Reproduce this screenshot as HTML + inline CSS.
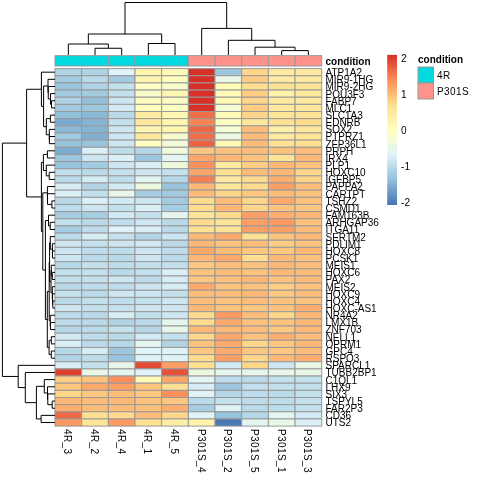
<!DOCTYPE html><html><head><meta charset="utf-8"><style>html,body{margin:0;padding:0;background:#fff;width:480px;height:480px;overflow:hidden}svg{display:block;will-change:transform}text{font-family:"Liberation Sans",sans-serif}</style></head><body>
<svg width="480" height="480" viewBox="0 0 480 480">
<g stroke="#999999" stroke-width="1">
<rect x="55.00" y="68.60" width="26.67" height="7.15" fill="#b0d3e6"/>
<rect x="81.67" y="68.60" width="26.67" height="7.15" fill="#b0d3e6"/>
<rect x="108.34" y="68.60" width="26.67" height="7.15" fill="#e0f3f8"/>
<rect x="135.01" y="68.60" width="26.67" height="7.15" fill="#fff5af"/>
<rect x="161.68" y="68.60" width="26.67" height="7.15" fill="#fffab8"/>
<rect x="188.35" y="68.60" width="26.67" height="7.15" fill="#d73027"/>
<rect x="215.02" y="68.60" width="26.67" height="7.15" fill="#9dc7df"/>
<rect x="241.69" y="68.60" width="26.67" height="7.15" fill="#fed689"/>
<rect x="268.36" y="68.60" width="26.67" height="7.15" fill="#feeba1"/>
<rect x="295.03" y="68.60" width="26.67" height="7.15" fill="#feeba1"/>
<rect x="55.00" y="75.75" width="26.67" height="7.15" fill="#a2cae1"/>
<rect x="81.67" y="75.75" width="26.67" height="7.15" fill="#badaea"/>
<rect x="108.34" y="75.75" width="26.67" height="7.15" fill="#a2cae1"/>
<rect x="135.01" y="75.75" width="26.67" height="7.15" fill="#fff5af"/>
<rect x="161.68" y="75.75" width="26.67" height="7.15" fill="#fffebe"/>
<rect x="188.35" y="75.75" width="26.67" height="7.15" fill="#d73027"/>
<rect x="215.02" y="75.75" width="26.67" height="7.15" fill="#e9f7e7"/>
<rect x="241.69" y="75.75" width="26.67" height="7.15" fill="#fecc83"/>
<rect x="268.36" y="75.75" width="26.67" height="7.15" fill="#feeba1"/>
<rect x="295.03" y="75.75" width="26.67" height="7.15" fill="#fee99e"/>
<rect x="55.00" y="82.90" width="26.67" height="7.15" fill="#98c4de"/>
<rect x="81.67" y="82.90" width="26.67" height="7.15" fill="#b0d3e6"/>
<rect x="108.34" y="82.90" width="26.67" height="7.15" fill="#c3e0ed"/>
<rect x="135.01" y="82.90" width="26.67" height="7.15" fill="#feffc1"/>
<rect x="161.68" y="82.90" width="26.67" height="7.15" fill="#f8fccb"/>
<rect x="188.35" y="82.90" width="26.67" height="7.15" fill="#d73027"/>
<rect x="215.02" y="82.90" width="26.67" height="7.15" fill="#fffab8"/>
<rect x="241.69" y="82.90" width="26.67" height="7.15" fill="#fee090"/>
<rect x="268.36" y="82.90" width="26.67" height="7.15" fill="#fee293"/>
<rect x="295.03" y="82.90" width="26.67" height="7.15" fill="#fee496"/>
<rect x="55.00" y="90.05" width="26.67" height="7.15" fill="#a2cae1"/>
<rect x="81.67" y="90.05" width="26.67" height="7.15" fill="#a2cae1"/>
<rect x="108.34" y="90.05" width="26.67" height="7.15" fill="#c3e0ed"/>
<rect x="135.01" y="90.05" width="26.67" height="7.15" fill="#f8fccb"/>
<rect x="161.68" y="90.05" width="26.67" height="7.15" fill="#fff7b2"/>
<rect x="188.35" y="90.05" width="26.67" height="7.15" fill="#d73027"/>
<rect x="215.02" y="90.05" width="26.67" height="7.15" fill="#fffab8"/>
<rect x="241.69" y="90.05" width="26.67" height="7.15" fill="#fecc83"/>
<rect x="268.36" y="90.05" width="26.67" height="7.15" fill="#fff3ac"/>
<rect x="295.03" y="90.05" width="26.67" height="7.15" fill="#fee99e"/>
<rect x="55.00" y="97.20" width="26.67" height="7.15" fill="#b0d3e6"/>
<rect x="81.67" y="97.20" width="26.67" height="7.15" fill="#93c1dc"/>
<rect x="108.34" y="97.20" width="26.67" height="7.15" fill="#cde6f1"/>
<rect x="135.01" y="97.20" width="26.67" height="7.15" fill="#fffebe"/>
<rect x="161.68" y="97.20" width="26.67" height="7.15" fill="#fcfec4"/>
<rect x="188.35" y="97.20" width="26.67" height="7.15" fill="#d73027"/>
<rect x="215.02" y="97.20" width="26.67" height="7.15" fill="#fff8b5"/>
<rect x="241.69" y="97.20" width="26.67" height="7.15" fill="#fed689"/>
<rect x="268.36" y="97.20" width="26.67" height="7.15" fill="#fee99e"/>
<rect x="295.03" y="97.20" width="26.67" height="7.15" fill="#fee99e"/>
<rect x="55.00" y="104.35" width="26.67" height="7.15" fill="#a2cae1"/>
<rect x="81.67" y="104.35" width="26.67" height="7.15" fill="#9dc7df"/>
<rect x="108.34" y="104.35" width="26.67" height="7.15" fill="#d2eaf3"/>
<rect x="135.01" y="104.35" width="26.67" height="7.15" fill="#fffebe"/>
<rect x="161.68" y="104.35" width="26.67" height="7.15" fill="#fcfec4"/>
<rect x="188.35" y="104.35" width="26.67" height="7.15" fill="#d73027"/>
<rect x="215.02" y="104.35" width="26.67" height="7.15" fill="#f5fbd2"/>
<rect x="241.69" y="104.35" width="26.67" height="7.15" fill="#fecc83"/>
<rect x="268.36" y="104.35" width="26.67" height="7.15" fill="#fee99e"/>
<rect x="295.03" y="104.35" width="26.67" height="7.15" fill="#fee89b"/>
<rect x="55.00" y="111.50" width="26.67" height="7.15" fill="#93c1dc"/>
<rect x="81.67" y="111.50" width="26.67" height="7.15" fill="#8ab8d7"/>
<rect x="108.34" y="111.50" width="26.67" height="7.15" fill="#badaea"/>
<rect x="135.01" y="111.50" width="26.67" height="7.15" fill="#feeba1"/>
<rect x="161.68" y="111.50" width="26.67" height="7.15" fill="#fff7b2"/>
<rect x="188.35" y="111.50" width="26.67" height="7.15" fill="#f06e48"/>
<rect x="215.02" y="111.50" width="26.67" height="7.15" fill="#fffab8"/>
<rect x="241.69" y="111.50" width="26.67" height="7.15" fill="#fed689"/>
<rect x="268.36" y="111.50" width="26.67" height="7.15" fill="#fee496"/>
<rect x="295.03" y="111.50" width="26.67" height="7.15" fill="#fee496"/>
<rect x="55.00" y="118.65" width="26.67" height="7.15" fill="#7cabd0"/>
<rect x="81.67" y="118.65" width="26.67" height="7.15" fill="#85b4d5"/>
<rect x="108.34" y="118.65" width="26.67" height="7.15" fill="#c3e0ed"/>
<rect x="135.01" y="118.65" width="26.67" height="7.15" fill="#fee99e"/>
<rect x="161.68" y="118.65" width="26.67" height="7.15" fill="#fff5af"/>
<rect x="188.35" y="118.65" width="26.67" height="7.15" fill="#f98554"/>
<rect x="215.02" y="118.65" width="26.67" height="7.15" fill="#fcfec4"/>
<rect x="241.69" y="118.65" width="26.67" height="7.15" fill="#fee89b"/>
<rect x="268.36" y="118.65" width="26.67" height="7.15" fill="#fee090"/>
<rect x="295.03" y="118.65" width="26.67" height="7.15" fill="#fedb8d"/>
<rect x="55.00" y="125.80" width="26.67" height="7.15" fill="#8ab8d7"/>
<rect x="81.67" y="125.80" width="26.67" height="7.15" fill="#85b4d5"/>
<rect x="108.34" y="125.80" width="26.67" height="7.15" fill="#cde6f1"/>
<rect x="135.01" y="125.80" width="26.67" height="7.15" fill="#fff7b2"/>
<rect x="161.68" y="125.80" width="26.67" height="7.15" fill="#fff5af"/>
<rect x="188.35" y="125.80" width="26.67" height="7.15" fill="#ed6845"/>
<rect x="215.02" y="125.80" width="26.67" height="7.15" fill="#f5fbd2"/>
<rect x="241.69" y="125.80" width="26.67" height="7.15" fill="#fdbd79"/>
<rect x="268.36" y="125.80" width="26.67" height="7.15" fill="#feefa7"/>
<rect x="295.03" y="125.80" width="26.67" height="7.15" fill="#fee89b"/>
<rect x="55.00" y="132.95" width="26.67" height="7.15" fill="#a2cae1"/>
<rect x="81.67" y="132.95" width="26.67" height="7.15" fill="#81afd3"/>
<rect x="108.34" y="132.95" width="26.67" height="7.15" fill="#cde6f1"/>
<rect x="135.01" y="132.95" width="26.67" height="7.15" fill="#fee99e"/>
<rect x="161.68" y="132.95" width="26.67" height="7.15" fill="#f8fccb"/>
<rect x="188.35" y="132.95" width="26.67" height="7.15" fill="#f06e48"/>
<rect x="215.02" y="132.95" width="26.67" height="7.15" fill="#edf8e0"/>
<rect x="241.69" y="132.95" width="26.67" height="7.15" fill="#fdbd79"/>
<rect x="268.36" y="132.95" width="26.67" height="7.15" fill="#fee99e"/>
<rect x="295.03" y="132.95" width="26.67" height="7.15" fill="#fee496"/>
<rect x="55.00" y="140.10" width="26.67" height="7.15" fill="#98c4de"/>
<rect x="81.67" y="140.10" width="26.67" height="7.15" fill="#98c4de"/>
<rect x="108.34" y="140.10" width="26.67" height="7.15" fill="#cde6f1"/>
<rect x="135.01" y="140.10" width="26.67" height="7.15" fill="#feffc1"/>
<rect x="161.68" y="140.10" width="26.67" height="7.15" fill="#f1fad9"/>
<rect x="188.35" y="140.10" width="26.67" height="7.15" fill="#eb6342"/>
<rect x="215.02" y="140.10" width="26.67" height="7.15" fill="#fff8b5"/>
<rect x="241.69" y="140.10" width="26.67" height="7.15" fill="#fdbd79"/>
<rect x="268.36" y="140.10" width="26.67" height="7.15" fill="#fee293"/>
<rect x="295.03" y="140.10" width="26.67" height="7.15" fill="#fee090"/>
<rect x="55.00" y="147.25" width="26.67" height="7.15" fill="#7cabd0"/>
<rect x="81.67" y="147.25" width="26.67" height="7.15" fill="#dbf0f6"/>
<rect x="108.34" y="147.25" width="26.67" height="7.15" fill="#beddec"/>
<rect x="135.01" y="147.25" width="26.67" height="7.15" fill="#b5d7e8"/>
<rect x="161.68" y="147.25" width="26.67" height="7.15" fill="#eff9dc"/>
<rect x="188.35" y="147.25" width="26.67" height="7.15" fill="#fdc77f"/>
<rect x="215.02" y="147.25" width="26.67" height="7.15" fill="#fdc27c"/>
<rect x="241.69" y="147.25" width="26.67" height="7.15" fill="#fdbd79"/>
<rect x="268.36" y="147.25" width="26.67" height="7.15" fill="#fdc27c"/>
<rect x="295.03" y="147.25" width="26.67" height="7.15" fill="#fdbd79"/>
<rect x="55.00" y="154.40" width="26.67" height="7.15" fill="#9dc7df"/>
<rect x="81.67" y="154.40" width="26.67" height="7.15" fill="#cde6f1"/>
<rect x="108.34" y="154.40" width="26.67" height="7.15" fill="#dbf0f6"/>
<rect x="135.01" y="154.40" width="26.67" height="7.15" fill="#9dc7df"/>
<rect x="161.68" y="154.40" width="26.67" height="7.15" fill="#e4f4f1"/>
<rect x="188.35" y="154.40" width="26.67" height="7.15" fill="#fda468"/>
<rect x="215.02" y="154.40" width="26.67" height="7.15" fill="#fdb875"/>
<rect x="241.69" y="154.40" width="26.67" height="7.15" fill="#fdc27c"/>
<rect x="268.36" y="154.40" width="26.67" height="7.15" fill="#fee496"/>
<rect x="295.03" y="154.40" width="26.67" height="7.15" fill="#fdb875"/>
<rect x="55.00" y="161.55" width="26.67" height="7.15" fill="#98c4de"/>
<rect x="81.67" y="161.55" width="26.67" height="7.15" fill="#a2cae1"/>
<rect x="108.34" y="161.55" width="26.67" height="7.15" fill="#cde6f1"/>
<rect x="135.01" y="161.55" width="26.67" height="7.15" fill="#dbf0f6"/>
<rect x="161.68" y="161.55" width="26.67" height="7.15" fill="#eff9dc"/>
<rect x="188.35" y="161.55" width="26.67" height="7.15" fill="#fc905b"/>
<rect x="215.02" y="161.55" width="26.67" height="7.15" fill="#fee99e"/>
<rect x="241.69" y="161.55" width="26.67" height="7.15" fill="#fecc83"/>
<rect x="268.36" y="161.55" width="26.67" height="7.15" fill="#fdb875"/>
<rect x="295.03" y="161.55" width="26.67" height="7.15" fill="#fdc27c"/>
<rect x="55.00" y="168.70" width="26.67" height="7.15" fill="#c3e0ed"/>
<rect x="81.67" y="168.70" width="26.67" height="7.15" fill="#badaea"/>
<rect x="108.34" y="168.70" width="26.67" height="7.15" fill="#c3e0ed"/>
<rect x="135.01" y="168.70" width="26.67" height="7.15" fill="#cde6f1"/>
<rect x="161.68" y="168.70" width="26.67" height="7.15" fill="#c3e0ed"/>
<rect x="188.35" y="168.70" width="26.67" height="7.15" fill="#fda468"/>
<rect x="215.02" y="168.70" width="26.67" height="7.15" fill="#fee293"/>
<rect x="241.69" y="168.70" width="26.67" height="7.15" fill="#fdbd79"/>
<rect x="268.36" y="168.70" width="26.67" height="7.15" fill="#fdb875"/>
<rect x="295.03" y="168.70" width="26.67" height="7.15" fill="#fed689"/>
<rect x="55.00" y="175.85" width="26.67" height="7.15" fill="#badaea"/>
<rect x="81.67" y="175.85" width="26.67" height="7.15" fill="#d6edf4"/>
<rect x="108.34" y="175.85" width="26.67" height="7.15" fill="#beddec"/>
<rect x="135.01" y="175.85" width="26.67" height="7.15" fill="#e4f4f1"/>
<rect x="161.68" y="175.85" width="26.67" height="7.15" fill="#b5d7e8"/>
<rect x="188.35" y="175.85" width="26.67" height="7.15" fill="#f67f51"/>
<rect x="215.02" y="175.85" width="26.67" height="7.15" fill="#feeba1"/>
<rect x="241.69" y="175.85" width="26.67" height="7.15" fill="#fedb8d"/>
<rect x="268.36" y="175.85" width="26.67" height="7.15" fill="#fdae6f"/>
<rect x="295.03" y="175.85" width="26.67" height="7.15" fill="#fed689"/>
<rect x="55.00" y="183.00" width="26.67" height="7.15" fill="#d6edf4"/>
<rect x="81.67" y="183.00" width="26.67" height="7.15" fill="#b0d3e6"/>
<rect x="108.34" y="183.00" width="26.67" height="7.15" fill="#d2eaf3"/>
<rect x="135.01" y="183.00" width="26.67" height="7.15" fill="#edf8e0"/>
<rect x="161.68" y="183.00" width="26.67" height="7.15" fill="#98c4de"/>
<rect x="188.35" y="183.00" width="26.67" height="7.15" fill="#fdb875"/>
<rect x="215.02" y="183.00" width="26.67" height="7.15" fill="#fee89b"/>
<rect x="241.69" y="183.00" width="26.67" height="7.15" fill="#fedb8d"/>
<rect x="268.36" y="183.00" width="26.67" height="7.15" fill="#fc9f65"/>
<rect x="295.03" y="183.00" width="26.67" height="7.15" fill="#fdbd79"/>
<rect x="55.00" y="190.15" width="26.67" height="7.15" fill="#dbf0f6"/>
<rect x="81.67" y="190.15" width="26.67" height="7.15" fill="#c3e0ed"/>
<rect x="108.34" y="190.15" width="26.67" height="7.15" fill="#e8f6ea"/>
<rect x="135.01" y="190.15" width="26.67" height="7.15" fill="#a7cde3"/>
<rect x="161.68" y="190.15" width="26.67" height="7.15" fill="#a2cae1"/>
<rect x="188.35" y="190.15" width="26.67" height="7.15" fill="#fdbd79"/>
<rect x="215.02" y="190.15" width="26.67" height="7.15" fill="#fed689"/>
<rect x="241.69" y="190.15" width="26.67" height="7.15" fill="#fdc77f"/>
<rect x="268.36" y="190.15" width="26.67" height="7.15" fill="#fdbd79"/>
<rect x="295.03" y="190.15" width="26.67" height="7.15" fill="#fdc27c"/>
<rect x="55.00" y="197.30" width="26.67" height="7.15" fill="#badaea"/>
<rect x="81.67" y="197.30" width="26.67" height="7.15" fill="#dbf0f6"/>
<rect x="108.34" y="197.30" width="26.67" height="7.15" fill="#d2eaf3"/>
<rect x="135.01" y="197.30" width="26.67" height="7.15" fill="#cde6f1"/>
<rect x="161.68" y="197.30" width="26.67" height="7.15" fill="#a2cae1"/>
<rect x="188.35" y="197.30" width="26.67" height="7.15" fill="#fedb8d"/>
<rect x="215.02" y="197.30" width="26.67" height="7.15" fill="#fdbd79"/>
<rect x="241.69" y="197.30" width="26.67" height="7.15" fill="#fed689"/>
<rect x="268.36" y="197.30" width="26.67" height="7.15" fill="#fda96b"/>
<rect x="295.03" y="197.30" width="26.67" height="7.15" fill="#fdc27c"/>
<rect x="55.00" y="204.45" width="26.67" height="7.15" fill="#beddec"/>
<rect x="81.67" y="204.45" width="26.67" height="7.15" fill="#cde6f1"/>
<rect x="108.34" y="204.45" width="26.67" height="7.15" fill="#c3e0ed"/>
<rect x="135.01" y="204.45" width="26.67" height="7.15" fill="#dbf0f6"/>
<rect x="161.68" y="204.45" width="26.67" height="7.15" fill="#a7cde3"/>
<rect x="188.35" y="204.45" width="26.67" height="7.15" fill="#fedb8d"/>
<rect x="215.02" y="204.45" width="26.67" height="7.15" fill="#fdb875"/>
<rect x="241.69" y="204.45" width="26.67" height="7.15" fill="#fed689"/>
<rect x="268.36" y="204.45" width="26.67" height="7.15" fill="#fdc27c"/>
<rect x="295.03" y="204.45" width="26.67" height="7.15" fill="#fdc77f"/>
<rect x="55.00" y="211.60" width="26.67" height="7.15" fill="#a7cde3"/>
<rect x="81.67" y="211.60" width="26.67" height="7.15" fill="#a7cde3"/>
<rect x="108.34" y="211.60" width="26.67" height="7.15" fill="#d2eaf3"/>
<rect x="135.01" y="211.60" width="26.67" height="7.15" fill="#c3e0ed"/>
<rect x="161.68" y="211.60" width="26.67" height="7.15" fill="#e6f5ee"/>
<rect x="188.35" y="211.60" width="26.67" height="7.15" fill="#fee496"/>
<rect x="215.02" y="211.60" width="26.67" height="7.15" fill="#fedb8d"/>
<rect x="241.69" y="211.60" width="26.67" height="7.15" fill="#fc9f65"/>
<rect x="268.36" y="211.60" width="26.67" height="7.15" fill="#fdae6f"/>
<rect x="295.03" y="211.60" width="26.67" height="7.15" fill="#fdb875"/>
<rect x="55.00" y="218.75" width="26.67" height="7.15" fill="#c3e0ed"/>
<rect x="81.67" y="218.75" width="26.67" height="7.15" fill="#badaea"/>
<rect x="108.34" y="218.75" width="26.67" height="7.15" fill="#beddec"/>
<rect x="135.01" y="218.75" width="26.67" height="7.15" fill="#cde6f1"/>
<rect x="161.68" y="218.75" width="26.67" height="7.15" fill="#badaea"/>
<rect x="188.35" y="218.75" width="26.67" height="7.15" fill="#fedb8d"/>
<rect x="215.02" y="218.75" width="26.67" height="7.15" fill="#fee496"/>
<rect x="241.69" y="218.75" width="26.67" height="7.15" fill="#fc9f65"/>
<rect x="268.36" y="218.75" width="26.67" height="7.15" fill="#fc9a61"/>
<rect x="295.03" y="218.75" width="26.67" height="7.15" fill="#fdc27c"/>
<rect x="55.00" y="225.90" width="26.67" height="7.15" fill="#a7cde3"/>
<rect x="81.67" y="225.90" width="26.67" height="7.15" fill="#beddec"/>
<rect x="108.34" y="225.90" width="26.67" height="7.15" fill="#e0f3f8"/>
<rect x="135.01" y="225.90" width="26.67" height="7.15" fill="#dbf0f6"/>
<rect x="161.68" y="225.90" width="26.67" height="7.15" fill="#badaea"/>
<rect x="188.35" y="225.90" width="26.67" height="7.15" fill="#fee293"/>
<rect x="215.02" y="225.90" width="26.67" height="7.15" fill="#fee496"/>
<rect x="241.69" y="225.90" width="26.67" height="7.15" fill="#fc9f65"/>
<rect x="268.36" y="225.90" width="26.67" height="7.15" fill="#fc9f65"/>
<rect x="295.03" y="225.90" width="26.67" height="7.15" fill="#fdbd79"/>
<rect x="55.00" y="233.05" width="26.67" height="7.15" fill="#beddec"/>
<rect x="81.67" y="233.05" width="26.67" height="7.15" fill="#d6edf4"/>
<rect x="108.34" y="233.05" width="26.67" height="7.15" fill="#c3e0ed"/>
<rect x="135.01" y="233.05" width="26.67" height="7.15" fill="#b0d3e6"/>
<rect x="161.68" y="233.05" width="26.67" height="7.15" fill="#cde6f1"/>
<rect x="188.35" y="233.05" width="26.67" height="7.15" fill="#fdb875"/>
<rect x="215.02" y="233.05" width="26.67" height="7.15" fill="#fda96b"/>
<rect x="241.69" y="233.05" width="26.67" height="7.15" fill="#fee293"/>
<rect x="268.36" y="233.05" width="26.67" height="7.15" fill="#fdc27c"/>
<rect x="295.03" y="233.05" width="26.67" height="7.15" fill="#fdb875"/>
<rect x="55.00" y="240.20" width="26.67" height="7.15" fill="#cde6f1"/>
<rect x="81.67" y="240.20" width="26.67" height="7.15" fill="#c3e0ed"/>
<rect x="108.34" y="240.20" width="26.67" height="7.15" fill="#cde6f1"/>
<rect x="135.01" y="240.20" width="26.67" height="7.15" fill="#d2eaf3"/>
<rect x="161.68" y="240.20" width="26.67" height="7.15" fill="#badaea"/>
<rect x="188.35" y="240.20" width="26.67" height="7.15" fill="#fdb875"/>
<rect x="215.02" y="240.20" width="26.67" height="7.15" fill="#fdc27c"/>
<rect x="241.69" y="240.20" width="26.67" height="7.15" fill="#fdbd79"/>
<rect x="268.36" y="240.20" width="26.67" height="7.15" fill="#fecc83"/>
<rect x="295.03" y="240.20" width="26.67" height="7.15" fill="#fdc27c"/>
<rect x="55.00" y="247.35" width="26.67" height="7.15" fill="#cde6f1"/>
<rect x="81.67" y="247.35" width="26.67" height="7.15" fill="#beddec"/>
<rect x="108.34" y="247.35" width="26.67" height="7.15" fill="#beddec"/>
<rect x="135.01" y="247.35" width="26.67" height="7.15" fill="#cde6f1"/>
<rect x="161.68" y="247.35" width="26.67" height="7.15" fill="#beddec"/>
<rect x="188.35" y="247.35" width="26.67" height="7.15" fill="#fda96b"/>
<rect x="215.02" y="247.35" width="26.67" height="7.15" fill="#fdbd79"/>
<rect x="241.69" y="247.35" width="26.67" height="7.15" fill="#fdc77f"/>
<rect x="268.36" y="247.35" width="26.67" height="7.15" fill="#fdc77f"/>
<rect x="295.03" y="247.35" width="26.67" height="7.15" fill="#fdb875"/>
<rect x="55.00" y="254.50" width="26.67" height="7.15" fill="#cde6f1"/>
<rect x="81.67" y="254.50" width="26.67" height="7.15" fill="#badaea"/>
<rect x="108.34" y="254.50" width="26.67" height="7.15" fill="#badaea"/>
<rect x="135.01" y="254.50" width="26.67" height="7.15" fill="#cde6f1"/>
<rect x="161.68" y="254.50" width="26.67" height="7.15" fill="#badaea"/>
<rect x="188.35" y="254.50" width="26.67" height="7.15" fill="#fdb875"/>
<rect x="215.02" y="254.50" width="26.67" height="7.15" fill="#fda96b"/>
<rect x="241.69" y="254.50" width="26.67" height="7.15" fill="#fee090"/>
<rect x="268.36" y="254.50" width="26.67" height="7.15" fill="#fdb875"/>
<rect x="295.03" y="254.50" width="26.67" height="7.15" fill="#fdc27c"/>
<rect x="55.00" y="261.65" width="26.67" height="7.15" fill="#b5d7e8"/>
<rect x="81.67" y="261.65" width="26.67" height="7.15" fill="#c3e0ed"/>
<rect x="108.34" y="261.65" width="26.67" height="7.15" fill="#beddec"/>
<rect x="135.01" y="261.65" width="26.67" height="7.15" fill="#c3e0ed"/>
<rect x="161.68" y="261.65" width="26.67" height="7.15" fill="#c3e0ed"/>
<rect x="188.35" y="261.65" width="26.67" height="7.15" fill="#fdc77f"/>
<rect x="215.02" y="261.65" width="26.67" height="7.15" fill="#fdbd79"/>
<rect x="241.69" y="261.65" width="26.67" height="7.15" fill="#fdc27c"/>
<rect x="268.36" y="261.65" width="26.67" height="7.15" fill="#fdb875"/>
<rect x="295.03" y="261.65" width="26.67" height="7.15" fill="#fdbd79"/>
<rect x="55.00" y="268.80" width="26.67" height="7.15" fill="#c3e0ed"/>
<rect x="81.67" y="268.80" width="26.67" height="7.15" fill="#c3e0ed"/>
<rect x="108.34" y="268.80" width="26.67" height="7.15" fill="#badaea"/>
<rect x="135.01" y="268.80" width="26.67" height="7.15" fill="#c3e0ed"/>
<rect x="161.68" y="268.80" width="26.67" height="7.15" fill="#dbf0f6"/>
<rect x="188.35" y="268.80" width="26.67" height="7.15" fill="#fdc27c"/>
<rect x="215.02" y="268.80" width="26.67" height="7.15" fill="#fdbd79"/>
<rect x="241.69" y="268.80" width="26.67" height="7.15" fill="#fdc27c"/>
<rect x="268.36" y="268.80" width="26.67" height="7.15" fill="#fdb875"/>
<rect x="295.03" y="268.80" width="26.67" height="7.15" fill="#fdbd79"/>
<rect x="55.00" y="275.95" width="26.67" height="7.15" fill="#c3e0ed"/>
<rect x="81.67" y="275.95" width="26.67" height="7.15" fill="#c3e0ed"/>
<rect x="108.34" y="275.95" width="26.67" height="7.15" fill="#cde6f1"/>
<rect x="135.01" y="275.95" width="26.67" height="7.15" fill="#beddec"/>
<rect x="161.68" y="275.95" width="26.67" height="7.15" fill="#d6edf4"/>
<rect x="188.35" y="275.95" width="26.67" height="7.15" fill="#fdc77f"/>
<rect x="215.02" y="275.95" width="26.67" height="7.15" fill="#fdc27c"/>
<rect x="241.69" y="275.95" width="26.67" height="7.15" fill="#fdb875"/>
<rect x="268.36" y="275.95" width="26.67" height="7.15" fill="#fdc27c"/>
<rect x="295.03" y="275.95" width="26.67" height="7.15" fill="#fdbd79"/>
<rect x="55.00" y="283.10" width="26.67" height="7.15" fill="#badaea"/>
<rect x="81.67" y="283.10" width="26.67" height="7.15" fill="#beddec"/>
<rect x="108.34" y="283.10" width="26.67" height="7.15" fill="#beddec"/>
<rect x="135.01" y="283.10" width="26.67" height="7.15" fill="#cde6f1"/>
<rect x="161.68" y="283.10" width="26.67" height="7.15" fill="#d6edf4"/>
<rect x="188.35" y="283.10" width="26.67" height="7.15" fill="#fda96b"/>
<rect x="215.02" y="283.10" width="26.67" height="7.15" fill="#fdc27c"/>
<rect x="241.69" y="283.10" width="26.67" height="7.15" fill="#fdc27c"/>
<rect x="268.36" y="283.10" width="26.67" height="7.15" fill="#fecc83"/>
<rect x="295.03" y="283.10" width="26.67" height="7.15" fill="#fdc27c"/>
<rect x="55.00" y="290.25" width="26.67" height="7.15" fill="#c3e0ed"/>
<rect x="81.67" y="290.25" width="26.67" height="7.15" fill="#badaea"/>
<rect x="108.34" y="290.25" width="26.67" height="7.15" fill="#cde6f1"/>
<rect x="135.01" y="290.25" width="26.67" height="7.15" fill="#cde6f1"/>
<rect x="161.68" y="290.25" width="26.67" height="7.15" fill="#c3e0ed"/>
<rect x="188.35" y="290.25" width="26.67" height="7.15" fill="#fdbd79"/>
<rect x="215.02" y="290.25" width="26.67" height="7.15" fill="#fdbd79"/>
<rect x="241.69" y="290.25" width="26.67" height="7.15" fill="#fdb875"/>
<rect x="268.36" y="290.25" width="26.67" height="7.15" fill="#fdc77f"/>
<rect x="295.03" y="290.25" width="26.67" height="7.15" fill="#fdbd79"/>
<rect x="55.00" y="297.40" width="26.67" height="7.15" fill="#badaea"/>
<rect x="81.67" y="297.40" width="26.67" height="7.15" fill="#c3e0ed"/>
<rect x="108.34" y="297.40" width="26.67" height="7.15" fill="#beddec"/>
<rect x="135.01" y="297.40" width="26.67" height="7.15" fill="#c3e0ed"/>
<rect x="161.68" y="297.40" width="26.67" height="7.15" fill="#cde6f1"/>
<rect x="188.35" y="297.40" width="26.67" height="7.15" fill="#fdbd79"/>
<rect x="215.02" y="297.40" width="26.67" height="7.15" fill="#fdc27c"/>
<rect x="241.69" y="297.40" width="26.67" height="7.15" fill="#fdbd79"/>
<rect x="268.36" y="297.40" width="26.67" height="7.15" fill="#fdc27c"/>
<rect x="295.03" y="297.40" width="26.67" height="7.15" fill="#fdc27c"/>
<rect x="55.00" y="304.55" width="26.67" height="7.15" fill="#cde6f1"/>
<rect x="81.67" y="304.55" width="26.67" height="7.15" fill="#c3e0ed"/>
<rect x="108.34" y="304.55" width="26.67" height="7.15" fill="#c3e0ed"/>
<rect x="135.01" y="304.55" width="26.67" height="7.15" fill="#cde6f1"/>
<rect x="161.68" y="304.55" width="26.67" height="7.15" fill="#cde6f1"/>
<rect x="188.35" y="304.55" width="26.67" height="7.15" fill="#fdb875"/>
<rect x="215.02" y="304.55" width="26.67" height="7.15" fill="#fdc27c"/>
<rect x="241.69" y="304.55" width="26.67" height="7.15" fill="#fdc77f"/>
<rect x="268.36" y="304.55" width="26.67" height="7.15" fill="#fdc27c"/>
<rect x="295.03" y="304.55" width="26.67" height="7.15" fill="#fdae6f"/>
<rect x="55.00" y="311.70" width="26.67" height="7.15" fill="#beddec"/>
<rect x="81.67" y="311.70" width="26.67" height="7.15" fill="#badaea"/>
<rect x="108.34" y="311.70" width="26.67" height="7.15" fill="#d6edf4"/>
<rect x="135.01" y="311.70" width="26.67" height="7.15" fill="#c3e0ed"/>
<rect x="161.68" y="311.70" width="26.67" height="7.15" fill="#cde6f1"/>
<rect x="188.35" y="311.70" width="26.67" height="7.15" fill="#fedb8d"/>
<rect x="215.02" y="311.70" width="26.67" height="7.15" fill="#fc9a61"/>
<rect x="241.69" y="311.70" width="26.67" height="7.15" fill="#fdbd79"/>
<rect x="268.36" y="311.70" width="26.67" height="7.15" fill="#fed689"/>
<rect x="295.03" y="311.70" width="26.67" height="7.15" fill="#fdb875"/>
<rect x="55.00" y="318.85" width="26.67" height="7.15" fill="#beddec"/>
<rect x="81.67" y="318.85" width="26.67" height="7.15" fill="#badaea"/>
<rect x="108.34" y="318.85" width="26.67" height="7.15" fill="#b0d3e6"/>
<rect x="135.01" y="318.85" width="26.67" height="7.15" fill="#badaea"/>
<rect x="161.68" y="318.85" width="26.67" height="7.15" fill="#e6f5ee"/>
<rect x="188.35" y="318.85" width="26.67" height="7.15" fill="#fedb8d"/>
<rect x="215.02" y="318.85" width="26.67" height="7.15" fill="#fda96b"/>
<rect x="241.69" y="318.85" width="26.67" height="7.15" fill="#fdc27c"/>
<rect x="268.36" y="318.85" width="26.67" height="7.15" fill="#fdc27c"/>
<rect x="295.03" y="318.85" width="26.67" height="7.15" fill="#fdb875"/>
<rect x="55.00" y="326.00" width="26.67" height="7.15" fill="#b5d7e8"/>
<rect x="81.67" y="326.00" width="26.67" height="7.15" fill="#badaea"/>
<rect x="108.34" y="326.00" width="26.67" height="7.15" fill="#c3e0ed"/>
<rect x="135.01" y="326.00" width="26.67" height="7.15" fill="#b5d7e8"/>
<rect x="161.68" y="326.00" width="26.67" height="7.15" fill="#e8f6ea"/>
<rect x="188.35" y="326.00" width="26.67" height="7.15" fill="#fdb875"/>
<rect x="215.02" y="326.00" width="26.67" height="7.15" fill="#fdb875"/>
<rect x="241.69" y="326.00" width="26.67" height="7.15" fill="#fdbd79"/>
<rect x="268.36" y="326.00" width="26.67" height="7.15" fill="#fdc77f"/>
<rect x="295.03" y="326.00" width="26.67" height="7.15" fill="#fdb875"/>
<rect x="55.00" y="333.15" width="26.67" height="7.15" fill="#d2eaf3"/>
<rect x="81.67" y="333.15" width="26.67" height="7.15" fill="#beddec"/>
<rect x="108.34" y="333.15" width="26.67" height="7.15" fill="#badaea"/>
<rect x="135.01" y="333.15" width="26.67" height="7.15" fill="#d2eaf3"/>
<rect x="161.68" y="333.15" width="26.67" height="7.15" fill="#c3e0ed"/>
<rect x="188.35" y="333.15" width="26.67" height="7.15" fill="#fed689"/>
<rect x="215.02" y="333.15" width="26.67" height="7.15" fill="#fda96b"/>
<rect x="241.69" y="333.15" width="26.67" height="7.15" fill="#fdc27c"/>
<rect x="268.36" y="333.15" width="26.67" height="7.15" fill="#fdae6f"/>
<rect x="295.03" y="333.15" width="26.67" height="7.15" fill="#fdbd79"/>
<rect x="55.00" y="340.30" width="26.67" height="7.15" fill="#dbf0f6"/>
<rect x="81.67" y="340.30" width="26.67" height="7.15" fill="#badaea"/>
<rect x="108.34" y="340.30" width="26.67" height="7.15" fill="#b5d7e8"/>
<rect x="135.01" y="340.30" width="26.67" height="7.15" fill="#e4f4f1"/>
<rect x="161.68" y="340.30" width="26.67" height="7.15" fill="#b0d3e6"/>
<rect x="188.35" y="340.30" width="26.67" height="7.15" fill="#fdc27c"/>
<rect x="215.02" y="340.30" width="26.67" height="7.15" fill="#fda96b"/>
<rect x="241.69" y="340.30" width="26.67" height="7.15" fill="#fed689"/>
<rect x="268.36" y="340.30" width="26.67" height="7.15" fill="#fdc77f"/>
<rect x="295.03" y="340.30" width="26.67" height="7.15" fill="#fdb875"/>
<rect x="55.00" y="347.45" width="26.67" height="7.15" fill="#b5d7e8"/>
<rect x="81.67" y="347.45" width="26.67" height="7.15" fill="#d6edf4"/>
<rect x="108.34" y="347.45" width="26.67" height="7.15" fill="#9dc7df"/>
<rect x="135.01" y="347.45" width="26.67" height="7.15" fill="#e0f3f8"/>
<rect x="161.68" y="347.45" width="26.67" height="7.15" fill="#e0f3f8"/>
<rect x="188.35" y="347.45" width="26.67" height="7.15" fill="#fdc77f"/>
<rect x="215.02" y="347.45" width="26.67" height="7.15" fill="#fda96b"/>
<rect x="241.69" y="347.45" width="26.67" height="7.15" fill="#fdc77f"/>
<rect x="268.36" y="347.45" width="26.67" height="7.15" fill="#fdc77f"/>
<rect x="295.03" y="347.45" width="26.67" height="7.15" fill="#fdbd79"/>
<rect x="55.00" y="354.60" width="26.67" height="7.15" fill="#b0d3e6"/>
<rect x="81.67" y="354.60" width="26.67" height="7.15" fill="#beddec"/>
<rect x="108.34" y="354.60" width="26.67" height="7.15" fill="#98c4de"/>
<rect x="135.01" y="354.60" width="26.67" height="7.15" fill="#e0f3f8"/>
<rect x="161.68" y="354.60" width="26.67" height="7.15" fill="#e0f3f8"/>
<rect x="188.35" y="354.60" width="26.67" height="7.15" fill="#fedb8d"/>
<rect x="215.02" y="354.60" width="26.67" height="7.15" fill="#fc9f65"/>
<rect x="241.69" y="354.60" width="26.67" height="7.15" fill="#fed689"/>
<rect x="268.36" y="354.60" width="26.67" height="7.15" fill="#fdb875"/>
<rect x="295.03" y="354.60" width="26.67" height="7.15" fill="#fdae6f"/>
<rect x="55.00" y="361.75" width="26.67" height="7.15" fill="#d6edf4"/>
<rect x="81.67" y="361.75" width="26.67" height="7.15" fill="#c3e0ed"/>
<rect x="108.34" y="361.75" width="26.67" height="7.15" fill="#e8f6ea"/>
<rect x="135.01" y="361.75" width="26.67" height="7.15" fill="#e24c36"/>
<rect x="161.68" y="361.75" width="26.67" height="7.15" fill="#fc9f65"/>
<rect x="188.35" y="361.75" width="26.67" height="7.15" fill="#fee090"/>
<rect x="215.02" y="361.75" width="26.67" height="7.15" fill="#d2eaf3"/>
<rect x="241.69" y="361.75" width="26.67" height="7.15" fill="#fed689"/>
<rect x="268.36" y="361.75" width="26.67" height="7.15" fill="#cde6f1"/>
<rect x="295.03" y="361.75" width="26.67" height="7.15" fill="#e9f7e7"/>
<rect x="55.00" y="368.90" width="26.67" height="7.15" fill="#de4130"/>
<rect x="81.67" y="368.90" width="26.67" height="7.15" fill="#e9f7e7"/>
<rect x="108.34" y="368.90" width="26.67" height="7.15" fill="#e4f4f1"/>
<rect x="135.01" y="368.90" width="26.67" height="7.15" fill="#e0f3f8"/>
<rect x="161.68" y="368.90" width="26.67" height="7.15" fill="#e45239"/>
<rect x="188.35" y="368.90" width="26.67" height="7.15" fill="#edf8e0"/>
<rect x="215.02" y="368.90" width="26.67" height="7.15" fill="#e6f5ee"/>
<rect x="241.69" y="368.90" width="26.67" height="7.15" fill="#e8f6ea"/>
<rect x="268.36" y="368.90" width="26.67" height="7.15" fill="#e8f6ea"/>
<rect x="295.03" y="368.90" width="26.67" height="7.15" fill="#e9f7e7"/>
<rect x="55.00" y="376.05" width="26.67" height="7.15" fill="#fecc83"/>
<rect x="81.67" y="376.05" width="26.67" height="7.15" fill="#fdc27c"/>
<rect x="108.34" y="376.05" width="26.67" height="7.15" fill="#fc905b"/>
<rect x="135.01" y="376.05" width="26.67" height="7.15" fill="#fff8b5"/>
<rect x="161.68" y="376.05" width="26.67" height="7.15" fill="#fda468"/>
<rect x="188.35" y="376.05" width="26.67" height="7.15" fill="#e4f4f1"/>
<rect x="215.02" y="376.05" width="26.67" height="7.15" fill="#beddec"/>
<rect x="241.69" y="376.05" width="26.67" height="7.15" fill="#badaea"/>
<rect x="268.36" y="376.05" width="26.67" height="7.15" fill="#c3e0ed"/>
<rect x="295.03" y="376.05" width="26.67" height="7.15" fill="#c3e0ed"/>
<rect x="55.00" y="383.20" width="26.67" height="7.15" fill="#fdc77f"/>
<rect x="81.67" y="383.20" width="26.67" height="7.15" fill="#fda96b"/>
<rect x="108.34" y="383.20" width="26.67" height="7.15" fill="#fc9f65"/>
<rect x="135.01" y="383.20" width="26.67" height="7.15" fill="#fdc77f"/>
<rect x="161.68" y="383.20" width="26.67" height="7.15" fill="#fee293"/>
<rect x="188.35" y="383.20" width="26.67" height="7.15" fill="#d6edf4"/>
<rect x="215.02" y="383.20" width="26.67" height="7.15" fill="#9dc7df"/>
<rect x="241.69" y="383.20" width="26.67" height="7.15" fill="#c3e0ed"/>
<rect x="268.36" y="383.20" width="26.67" height="7.15" fill="#c3e0ed"/>
<rect x="295.03" y="383.20" width="26.67" height="7.15" fill="#c3e0ed"/>
<rect x="55.00" y="390.35" width="26.67" height="7.15" fill="#fed689"/>
<rect x="81.67" y="390.35" width="26.67" height="7.15" fill="#fdc77f"/>
<rect x="108.34" y="390.35" width="26.67" height="7.15" fill="#fdbd79"/>
<rect x="135.01" y="390.35" width="26.67" height="7.15" fill="#fdc77f"/>
<rect x="161.68" y="390.35" width="26.67" height="7.15" fill="#fc905b"/>
<rect x="188.35" y="390.35" width="26.67" height="7.15" fill="#e0f3f8"/>
<rect x="215.02" y="390.35" width="26.67" height="7.15" fill="#b5d7e8"/>
<rect x="241.69" y="390.35" width="26.67" height="7.15" fill="#beddec"/>
<rect x="268.36" y="390.35" width="26.67" height="7.15" fill="#badaea"/>
<rect x="295.03" y="390.35" width="26.67" height="7.15" fill="#c3e0ed"/>
<rect x="55.00" y="397.50" width="26.67" height="7.15" fill="#fdb875"/>
<rect x="81.67" y="397.50" width="26.67" height="7.15" fill="#fdbd79"/>
<rect x="108.34" y="397.50" width="26.67" height="7.15" fill="#fdb875"/>
<rect x="135.01" y="397.50" width="26.67" height="7.15" fill="#fdc27c"/>
<rect x="161.68" y="397.50" width="26.67" height="7.15" fill="#fdc77f"/>
<rect x="188.35" y="397.50" width="26.67" height="7.15" fill="#badaea"/>
<rect x="215.02" y="397.50" width="26.67" height="7.15" fill="#c3e0ed"/>
<rect x="241.69" y="397.50" width="26.67" height="7.15" fill="#beddec"/>
<rect x="268.36" y="397.50" width="26.67" height="7.15" fill="#beddec"/>
<rect x="295.03" y="397.50" width="26.67" height="7.15" fill="#c3e0ed"/>
<rect x="55.00" y="404.65" width="26.67" height="7.15" fill="#fdae6f"/>
<rect x="81.67" y="404.65" width="26.67" height="7.15" fill="#fdbd79"/>
<rect x="108.34" y="404.65" width="26.67" height="7.15" fill="#fdbd79"/>
<rect x="135.01" y="404.65" width="26.67" height="7.15" fill="#fdc27c"/>
<rect x="161.68" y="404.65" width="26.67" height="7.15" fill="#fdae6f"/>
<rect x="188.35" y="404.65" width="26.67" height="7.15" fill="#a7cde3"/>
<rect x="215.02" y="404.65" width="26.67" height="7.15" fill="#e0f3f8"/>
<rect x="241.69" y="404.65" width="26.67" height="7.15" fill="#badaea"/>
<rect x="268.36" y="404.65" width="26.67" height="7.15" fill="#beddec"/>
<rect x="295.03" y="404.65" width="26.67" height="7.15" fill="#c3e0ed"/>
<rect x="55.00" y="411.80" width="26.67" height="7.15" fill="#ed6845"/>
<rect x="81.67" y="411.80" width="26.67" height="7.15" fill="#fee090"/>
<rect x="108.34" y="411.80" width="26.67" height="7.15" fill="#fedb8d"/>
<rect x="135.01" y="411.80" width="26.67" height="7.15" fill="#fdbd79"/>
<rect x="161.68" y="411.80" width="26.67" height="7.15" fill="#fed689"/>
<rect x="188.35" y="411.80" width="26.67" height="7.15" fill="#e0f3f8"/>
<rect x="215.02" y="411.80" width="26.67" height="7.15" fill="#98c4de"/>
<rect x="241.69" y="411.80" width="26.67" height="7.15" fill="#b5d7e8"/>
<rect x="268.36" y="411.80" width="26.67" height="7.15" fill="#e4f4f1"/>
<rect x="295.03" y="411.80" width="26.67" height="7.15" fill="#d2eaf3"/>
<rect x="55.00" y="418.95" width="26.67" height="7.15" fill="#fc9a61"/>
<rect x="81.67" y="418.95" width="26.67" height="7.15" fill="#fee496"/>
<rect x="108.34" y="418.95" width="26.67" height="7.15" fill="#fc9a61"/>
<rect x="135.01" y="418.95" width="26.67" height="7.15" fill="#fee293"/>
<rect x="161.68" y="418.95" width="26.67" height="7.15" fill="#feefa7"/>
<rect x="188.35" y="418.95" width="26.67" height="7.15" fill="#fff3ac"/>
<rect x="215.02" y="418.95" width="26.67" height="7.15" fill="#4a79b6"/>
<rect x="241.69" y="418.95" width="26.67" height="7.15" fill="#e4f4f1"/>
<rect x="268.36" y="418.95" width="26.67" height="7.15" fill="#e9f7e7"/>
<rect x="295.03" y="418.95" width="26.67" height="7.15" fill="#dbf0f6"/>
</g>
<g stroke="#999999" stroke-width="1">
<rect x="55.00" y="55.67" width="26.67" height="10.33" fill="#00DAE0"/>
<rect x="81.67" y="55.67" width="26.67" height="10.33" fill="#00DAE0"/>
<rect x="108.34" y="55.67" width="26.67" height="10.33" fill="#00DAE0"/>
<rect x="135.01" y="55.67" width="26.67" height="10.33" fill="#00DAE0"/>
<rect x="161.68" y="55.67" width="26.67" height="10.33" fill="#00DAE0"/>
<rect x="188.35" y="55.67" width="26.67" height="10.33" fill="#FF9289"/>
<rect x="215.02" y="55.67" width="26.67" height="10.33" fill="#FF9289"/>
<rect x="241.69" y="55.67" width="26.67" height="10.33" fill="#FF9289"/>
<rect x="268.36" y="55.67" width="26.67" height="10.33" fill="#FF9289"/>
<rect x="295.03" y="55.67" width="26.67" height="10.33" fill="#FF9289"/>
</g>
<g fill="none" stroke="#000" stroke-width="1">
<polyline points="55.00,100.78 51.50,100.78 51.50,107.92 55.00,107.92"/>
<polyline points="55.00,93.62 50.50,93.62 50.50,104.35 51.50,104.35"/>
<polyline points="55.00,86.47 48.25,86.47 48.25,98.99 50.50,98.99"/>
<polyline points="55.00,79.32 48.00,79.32 48.00,92.73 48.25,92.73"/>
<polyline points="55.00,115.07 50.40,115.07 50.40,122.22 55.00,122.22"/>
<polyline points="55.00,136.52 49.40,136.52 49.40,143.68 55.00,143.68"/>
<polyline points="55.00,129.38 49.30,129.38 49.30,140.10 49.40,140.10"/>
<polyline points="50.40,118.65 46.30,118.65 46.30,134.74 49.30,134.74"/>
<polyline points="48.00,86.03 43.60,86.03 43.60,126.69 46.30,126.69"/>
<polyline points="55.00,72.17 41.40,72.17 41.40,106.36 43.60,106.36"/>
<polyline points="55.00,150.82 47.40,150.82 47.40,157.97 55.00,157.97"/>
<polyline points="55.00,172.28 49.25,172.28 49.25,179.43 55.00,179.43"/>
<polyline points="55.00,165.12 46.25,165.12 46.25,175.85 49.25,175.85"/>
<polyline points="47.40,154.40 43.40,154.40 43.40,170.49 46.25,170.49"/>
<polyline points="55.00,200.88 51.90,200.88 51.90,208.03 55.00,208.03"/>
<polyline points="55.00,193.72 47.50,193.72 47.50,204.45 51.90,204.45"/>
<polyline points="55.00,186.57 47.40,186.57 47.40,199.09 47.50,199.09"/>
<polyline points="55.00,222.32 50.20,222.32 50.20,229.47 55.00,229.47"/>
<polyline points="55.00,215.18 48.50,215.18 48.50,225.90 50.20,225.90"/>
<polyline points="55.00,250.93 52.50,250.93 52.50,258.08 55.00,258.08"/>
<polyline points="55.00,243.78 52.40,243.78 52.40,254.50 52.50,254.50"/>
<polyline points="55.00,236.62 50.30,236.62 50.30,249.14 52.40,249.14"/>
<polyline points="55.00,272.38 52.30,272.38 52.30,279.52 55.00,279.52"/>
<polyline points="55.00,265.23 51.30,265.23 51.30,275.95 52.30,275.95"/>
<polyline points="55.00,300.98 52.80,300.98 52.80,308.12 55.00,308.12"/>
<polyline points="55.00,293.83 52.60,293.83 52.60,304.55 52.80,304.55"/>
<polyline points="55.00,286.68 52.30,286.68 52.30,299.19 52.60,299.19"/>
<polyline points="51.30,270.59 51.00,270.59 51.00,292.93 52.30,292.93"/>
<polyline points="50.30,242.88 49.60,242.88 49.60,281.76 51.00,281.76"/>
<polyline points="55.00,322.43 50.40,322.43 50.40,329.58 55.00,329.58"/>
<polyline points="55.00,315.27 50.25,315.27 50.25,326.00 50.40,326.00"/>
<polyline points="49.60,262.32 49.20,262.32 49.20,320.64 50.25,320.64"/>
<polyline points="55.00,336.73 51.30,336.73 51.30,343.88 55.00,343.88"/>
<polyline points="55.00,351.02 51.30,351.02 51.30,358.17 55.00,358.17"/>
<polyline points="51.30,340.30 49.10,340.30 49.10,354.60 51.30,354.60"/>
<polyline points="49.20,291.48 47.30,291.48 47.30,347.45 49.10,347.45"/>
<polyline points="48.50,220.54 45.40,220.54 45.40,319.46 47.30,319.46"/>
<polyline points="47.40,192.83 42.80,192.83 42.80,270.00 45.40,270.00"/>
<polyline points="43.40,162.44 41.40,162.44 41.40,231.42 42.80,231.42"/>
<polyline points="41.40,89.27 26.60,89.27 26.60,196.93 41.40,196.93"/>
<polyline points="55.00,401.08 52.20,401.08 52.20,408.23 55.00,408.23"/>
<polyline points="55.00,393.92 47.80,393.92 47.80,404.65 52.20,404.65"/>
<polyline points="55.00,386.77 47.50,386.77 47.50,399.29 47.80,399.29"/>
<polyline points="55.00,379.62 44.30,379.62 44.30,393.03 47.50,393.03"/>
<polyline points="55.00,415.38 41.10,415.38 41.10,422.52 55.00,422.52"/>
<polyline points="44.30,386.33 36.40,386.33 36.40,418.95 41.10,418.95"/>
<polyline points="55.00,372.48 25.30,372.48 25.30,402.64 36.40,402.64"/>
<polyline points="55.00,365.33 18.20,365.33 18.20,387.56 25.30,387.56"/>
<polyline points="26.60,143.10 2.40,143.10 2.40,376.44 18.20,376.44"/>
<polyline points="95.00,55.00 95.00,48.25 121.68,48.25 121.68,55.00"/>
<polyline points="68.34,55.00 68.34,44.00 108.34,44.00 108.34,48.25"/>
<polyline points="148.34,55.00 148.34,43.50 175.02,43.50 175.02,55.00"/>
<polyline points="88.34,44.00 88.34,34.00 161.68,34.00 161.68,43.50"/>
<polyline points="281.70,55.00 281.70,50.60 308.37,50.60 308.37,55.00"/>
<polyline points="255.03,55.00 255.03,47.20 295.03,47.20 295.03,50.60"/>
<polyline points="228.36,55.00 228.36,40.30 275.03,40.30 275.03,47.20"/>
<polyline points="201.69,55.00 201.69,28.40 251.69,28.40 251.69,40.30"/>
<polyline points="125.01,34.00 125.01,2.50 226.69,2.50 226.69,28.40"/>
</g>
<g font-size="10" fill="#000">
<text x="325.5" y="76.08">ATP1A2</text>
<text x="325.5" y="83.22">MIR9-1HG</text>
<text x="325.5" y="90.38">MIR9-2HG</text>
<text x="325.5" y="97.53">POU3F3</text>
<text x="325.5" y="104.68">FABP7</text>
<text x="325.5" y="111.83">MLC1</text>
<text x="325.5" y="118.97">SLC1A3</text>
<text x="325.5" y="126.12">EDNRB</text>
<text x="325.5" y="133.28">SOX2</text>
<text x="325.5" y="140.42">PTPRZ1</text>
<text x="325.5" y="147.58">ZFP36L1</text>
<text x="325.5" y="154.72">PRPH</text>
<text x="325.5" y="161.88">IRX4</text>
<text x="325.5" y="169.03">PLP1</text>
<text x="325.5" y="176.18">HOXC10</text>
<text x="325.5" y="183.33">IGFBP5</text>
<text x="325.5" y="190.47">PAPPA2</text>
<text x="325.5" y="197.62">CARTPT</text>
<text x="325.5" y="204.78">TSHZ2</text>
<text x="325.5" y="211.93">CSMD1</text>
<text x="325.5" y="219.08">FAM163B</text>
<text x="325.5" y="226.22">ARHGAP36</text>
<text x="325.5" y="233.38">ITGA11</text>
<text x="325.5" y="240.53">SERTM2</text>
<text x="325.5" y="247.68">PDLIM1</text>
<text x="325.5" y="254.83">HOXC8</text>
<text x="325.5" y="261.98">PCSK1</text>
<text x="325.5" y="269.12">MEIS1</text>
<text x="325.5" y="276.27">HOXC6</text>
<text x="325.5" y="283.42">PAX2</text>
<text x="325.5" y="290.57">MEIS2</text>
<text x="325.5" y="297.73">HOXC9</text>
<text x="325.5" y="304.88">HOXC4</text>
<text x="325.5" y="312.02">HOXC-AS1</text>
<text x="325.5" y="319.17">NR4A2</text>
<text x="325.5" y="326.32">LMX1B</text>
<text x="325.5" y="333.48">ZNF703</text>
<text x="325.5" y="340.62">NELL1</text>
<text x="325.5" y="347.77">OPRM1</text>
<text x="325.5" y="354.92">GPC4</text>
<text x="325.5" y="362.07">RSPO3</text>
<text x="325.5" y="369.23">SPARCL1</text>
<text x="325.5" y="376.38">TUBB2BP1</text>
<text x="325.5" y="383.52">C1QL1</text>
<text x="325.5" y="390.67">LHX9</text>
<text x="325.5" y="397.82">SIX3</text>
<text x="325.5" y="404.98">TSPYL5</text>
<text x="325.5" y="412.12">FAR2P3</text>
<text x="325.5" y="419.27">CD36</text>
<text x="325.5" y="426.42">UTS2</text>
</g>
<g font-size="10" fill="#000" letter-spacing="0.4">
<text transform="translate(67.84,429) rotate(90)" x="0" y="3.6">4R_3</text>
<text transform="translate(94.50,429) rotate(90)" x="0" y="3.6">4R_2</text>
<text transform="translate(121.18,429) rotate(90)" x="0" y="3.6">4R_4</text>
<text transform="translate(147.84,429) rotate(90)" x="0" y="3.6">4R_1</text>
<text transform="translate(174.52,429) rotate(90)" x="0" y="3.6">4R_5</text>
<text transform="translate(201.19,429) rotate(90)" x="0" y="3.6">P301S_4</text>
<text transform="translate(227.86,429) rotate(90)" x="0" y="3.6">P301S_2</text>
<text transform="translate(254.53,429) rotate(90)" x="0" y="3.6">P301S_5</text>
<text transform="translate(281.20,429) rotate(90)" x="0" y="3.6">P301S_1</text>
<text transform="translate(307.87,429) rotate(90)" x="0" y="3.6">P301S_3</text>
</g>
<text x="325.5" y="64.5" font-size="10" font-weight="bold">condition</text>
<defs><linearGradient id="lg" x1="0" y1="1" x2="0" y2="0">
<stop offset="0.000" stop-color="#4575b4"/>
<stop offset="0.010" stop-color="#4a79b6"/>
<stop offset="0.020" stop-color="#4e7eb9"/>
<stop offset="0.030" stop-color="#5382bb"/>
<stop offset="0.040" stop-color="#5787bd"/>
<stop offset="0.051" stop-color="#5c8bc0"/>
<stop offset="0.061" stop-color="#6190c2"/>
<stop offset="0.071" stop-color="#6594c5"/>
<stop offset="0.081" stop-color="#6a99c7"/>
<stop offset="0.091" stop-color="#6e9dc9"/>
<stop offset="0.101" stop-color="#73a2cc"/>
<stop offset="0.111" stop-color="#78a6ce"/>
<stop offset="0.121" stop-color="#7cabd0"/>
<stop offset="0.131" stop-color="#81afd3"/>
<stop offset="0.141" stop-color="#85b4d5"/>
<stop offset="0.152" stop-color="#8ab8d7"/>
<stop offset="0.162" stop-color="#8fbdda"/>
<stop offset="0.172" stop-color="#93c1dc"/>
<stop offset="0.182" stop-color="#98c4de"/>
<stop offset="0.192" stop-color="#9dc7df"/>
<stop offset="0.202" stop-color="#a2cae1"/>
<stop offset="0.212" stop-color="#a7cde3"/>
<stop offset="0.222" stop-color="#abd0e5"/>
<stop offset="0.232" stop-color="#b0d3e6"/>
<stop offset="0.242" stop-color="#b5d7e8"/>
<stop offset="0.253" stop-color="#badaea"/>
<stop offset="0.263" stop-color="#beddec"/>
<stop offset="0.273" stop-color="#c3e0ed"/>
<stop offset="0.283" stop-color="#c8e3ef"/>
<stop offset="0.293" stop-color="#cde6f1"/>
<stop offset="0.303" stop-color="#d2eaf3"/>
<stop offset="0.313" stop-color="#d6edf4"/>
<stop offset="0.323" stop-color="#dbf0f6"/>
<stop offset="0.333" stop-color="#e0f3f8"/>
<stop offset="0.343" stop-color="#e2f4f5"/>
<stop offset="0.354" stop-color="#e4f4f1"/>
<stop offset="0.364" stop-color="#e6f5ee"/>
<stop offset="0.374" stop-color="#e8f6ea"/>
<stop offset="0.384" stop-color="#e9f7e7"/>
<stop offset="0.394" stop-color="#ebf7e3"/>
<stop offset="0.404" stop-color="#edf8e0"/>
<stop offset="0.414" stop-color="#eff9dc"/>
<stop offset="0.424" stop-color="#f1fad9"/>
<stop offset="0.434" stop-color="#f3fad5"/>
<stop offset="0.444" stop-color="#f5fbd2"/>
<stop offset="0.455" stop-color="#f7fccf"/>
<stop offset="0.465" stop-color="#f8fccb"/>
<stop offset="0.475" stop-color="#fafdc8"/>
<stop offset="0.485" stop-color="#fcfec4"/>
<stop offset="0.495" stop-color="#feffc1"/>
<stop offset="0.505" stop-color="#fffebe"/>
<stop offset="0.515" stop-color="#fffcbb"/>
<stop offset="0.525" stop-color="#fffab8"/>
<stop offset="0.535" stop-color="#fff8b5"/>
<stop offset="0.545" stop-color="#fff7b2"/>
<stop offset="0.556" stop-color="#fff5af"/>
<stop offset="0.566" stop-color="#fff3ac"/>
<stop offset="0.576" stop-color="#fff1aa"/>
<stop offset="0.586" stop-color="#feefa7"/>
<stop offset="0.596" stop-color="#feeda4"/>
<stop offset="0.606" stop-color="#feeba1"/>
<stop offset="0.616" stop-color="#fee99e"/>
<stop offset="0.626" stop-color="#fee89b"/>
<stop offset="0.636" stop-color="#fee699"/>
<stop offset="0.646" stop-color="#fee496"/>
<stop offset="0.657" stop-color="#fee293"/>
<stop offset="0.667" stop-color="#fee090"/>
<stop offset="0.677" stop-color="#fedb8d"/>
<stop offset="0.687" stop-color="#fed689"/>
<stop offset="0.697" stop-color="#fed186"/>
<stop offset="0.707" stop-color="#fecc83"/>
<stop offset="0.717" stop-color="#fdc77f"/>
<stop offset="0.727" stop-color="#fdc27c"/>
<stop offset="0.737" stop-color="#fdbd79"/>
<stop offset="0.747" stop-color="#fdb875"/>
<stop offset="0.758" stop-color="#fdb372"/>
<stop offset="0.768" stop-color="#fdae6f"/>
<stop offset="0.778" stop-color="#fda96b"/>
<stop offset="0.788" stop-color="#fda468"/>
<stop offset="0.798" stop-color="#fc9f65"/>
<stop offset="0.808" stop-color="#fc9a61"/>
<stop offset="0.818" stop-color="#fc955e"/>
<stop offset="0.828" stop-color="#fc905b"/>
<stop offset="0.838" stop-color="#fb8a57"/>
<stop offset="0.848" stop-color="#f98554"/>
<stop offset="0.859" stop-color="#f67f51"/>
<stop offset="0.869" stop-color="#f4794e"/>
<stop offset="0.879" stop-color="#f2744b"/>
<stop offset="0.889" stop-color="#f06e48"/>
<stop offset="0.899" stop-color="#ed6845"/>
<stop offset="0.909" stop-color="#eb6342"/>
<stop offset="0.919" stop-color="#e95d3f"/>
<stop offset="0.929" stop-color="#e7573c"/>
<stop offset="0.939" stop-color="#e45239"/>
<stop offset="0.949" stop-color="#e24c36"/>
<stop offset="0.960" stop-color="#e04733"/>
<stop offset="0.970" stop-color="#de4130"/>
<stop offset="0.980" stop-color="#db3b2d"/>
<stop offset="0.990" stop-color="#d9362a"/>
<stop offset="1.000" stop-color="#d73027"/>
</linearGradient></defs>
<rect x="387.2" y="54.9" width="9.8" height="150.1" fill="url(#lg)"/>
<text x="401.1" y="61.90" font-size="10">2</text>
<text x="401.1" y="98.00" font-size="10">1</text>
<text x="401.1" y="134.10" font-size="10">0</text>
<text x="401.1" y="170.20" font-size="10">-1</text>
<text x="401.1" y="206.30" font-size="10">-2</text>
<text x="418" y="63.2" font-size="10" font-weight="bold">condition</text>
<rect x="418" y="67" width="15.5" height="16" fill="#00DAE0" stroke="#999999" stroke-width="1"/>
<rect x="418" y="83" width="15.5" height="16" fill="#FF9289" stroke="#999999" stroke-width="1"/>
<text x="437" y="78.6" font-size="10" letter-spacing="0.4">4R</text>
<text x="437" y="94.6" font-size="10" letter-spacing="0.4">P301S</text>
</svg></body></html>
